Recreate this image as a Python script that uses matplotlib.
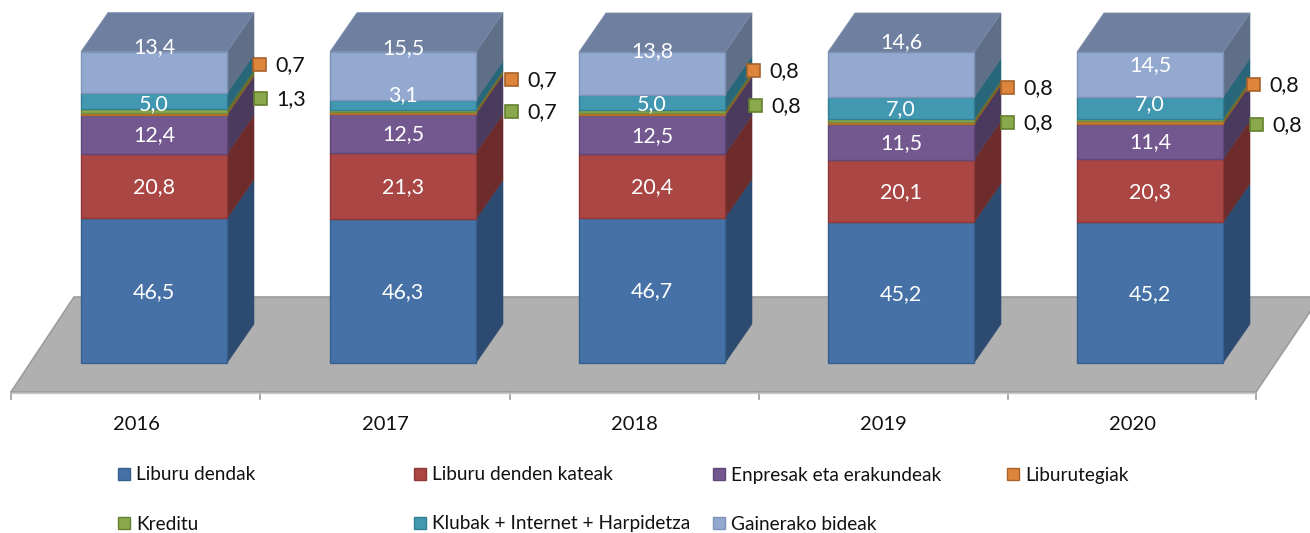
import matplotlib
matplotlib.use("Agg")
import matplotlib.pyplot as plt
from matplotlib.patches import Polygon, Rectangle

plt.rcParams['font.family'] = ['Lato', 'DejaVu Sans']

years = ['2016', '2017', '2018', '2019', '2020']
liburu_dendak = [46.5, 46.3, 46.7, 45.2, 45.2]
kateak = [20.8, 21.3, 20.4, 20.1, 20.3]
enpresak = [12.4, 12.5, 12.5, 11.5, 11.4]
liburutegiak = [0.7, 0.7, 0.8, 0.8, 0.8]
kreditu = [1.3, 0.7, 0.8, 0.8, 0.8]
klubak = [5.0, 3.1, 5.0, 7.0, 7.0]
gainerako = [13.4, 15.5, 13.8, 14.6, 14.5]

names = ['Liburu dendak', 'Liburu denden kateak', 'Enpresak eta erakundeak', 'Liburutegiak',
         'Kreditu', 'Klubak + Internet + Harpidetza', 'Gainerako bideak']
series = [liburu_dendak, kateak, enpresak, liburutegiak, kreditu, klubak, gainerako]

front = ['#4571a6', '#aa4644', '#73588f', '#c77a30', '#8aa64c', '#4198b0', '#94a9d0']
side = ['#2d4a70', '#6d2c2b', '#4a3a5e', '#8a5a20', '#5c7030', '#28667a', '#5f6f88']
edge = ['#38608f', '#8f3735', '#5f4878', '#b06a28', '#6f8a3c', '#327f94', '#7f93b8']
top_face = '#6f7f9f'

PX_X, PX_Y = 249.0, 3.11
X0, Y0 = 154.0, 363.0
W, H = 1310, 533
bar_w = 146 / PX_X
dx, dy = 27 / PX_X, 39 / PX_Y

fig = plt.figure(figsize=(W / 100, H / 100), dpi=100)
ax = fig.add_axes([0, 0, 1, 1])
ax.set_xlim(-X0 / PX_X, (W - X0) / PX_X)
ax.set_ylim(-(H - Y0) / PX_Y, Y0 / PX_Y)
ax.axis('off')

# overlay in pixel units for floor, legend and annotations
pa = fig.add_axes([0, 0, 1, 1], zorder=-1)
pa.set_xlim(0, W)
pa.set_ylim(H, 0)
pa.axis('off')
pb = fig.add_axes([0, 0, 1, 1], zorder=5)
pb.set_xlim(0, W)
pb.set_ylim(H, 0)
pb.axis('off')
pb.patch.set_alpha(0)
ax.patch.set_alpha(0)

# floor
pa.add_patch(Polygon([(11, 392), (1256, 392), (1320, 297), (74, 297)], closed=True,
                     facecolor='#b0b0b0', edgecolor='#9c9c9c', lw=1.2))
tick_x = [11, 260, 510, 759, 1008, 1256]
for t in tick_x:
    pa.plot([t, t], [392, 399], color='#9a9a9a', lw=1.2)
pa.plot([11, 1256], [393, 393], color='#c8c8c8', lw=1)
for lab, xp in zip(years, [136, 385, 634, 883, 1132]):
    pa.text(xp, 424, lab, ha='center', va='center', fontsize=14.5, color='#111111')

# bars
for i in range(len(years)):
    base = 0.0
    l, r = i - bar_w / 2, i + bar_w / 2
    for k, s in enumerate(series):
        v = s[i]
        b, t = base, base + v
        ax.add_patch(Polygon([(r, b), (r + dx, b + dy), (r + dx, t + dy), (r, t)], closed=True,
                             facecolor=side[k], edgecolor=side[k], lw=0.4, zorder=2 + k))
        ax.add_patch(Rectangle((l, b), bar_w, v, facecolor=front[k], edgecolor=edge[k], lw=1.0, zorder=3 + k))
        base = t
    ax.add_patch(Polygon([(l, base), (r, base), (r + dx, base + dy), (l + dx, base + dy)], closed=True,
                         facecolor=top_face, edgecolor='#7c8cab', lw=0.6, zorder=12))

# labels inside bars (pixel offsets from the segment centre for manually moved labels)
shift_klubak = [3, -10, 1, 1, -4]
shift_gain = [-25, -28, -22, -33, -9]
for i in range(len(years)):
    base = 0.0
    for k, s in enumerate(series):
        v = s[i]
        c = base + v / 2
        base += v
        if k in (3, 4):
            continue
        off = 1
        if k == 5:
            off = shift_klubak[i]
        if k == 6:
            off = shift_gain[i]
        ax.text(i, c - off / PX_Y, f'{v:.1f}'.replace('.', ','), ha='center', va='center',
                color='white', fontsize=15.5, zorder=20)

# call-outs for the thin series
orange_xy = [(259, 64), (511, 79), (753, 70), (1007, 87), (1253, 84)]
green_xy = [(260, 98), (511, 111), (755, 105), (1007, 122), (1256, 124)]
for xy, vals, fc, ec in [(orange_xy, liburutegiak, '#dd853a', '#a8622a'),
                         (green_xy, kreditu, '#8aa94c', '#64802f')]:
    for (x, y), v in zip(xy, vals):
        pb.add_patch(Rectangle((x - 6.5, y - 6.5), 13, 13, facecolor=fc, edgecolor=ec, lw=1.2))
        pb.text(x + 31, y + 1, f'{v:.1f}'.replace('.', ','), ha='center', va='center',
                fontsize=15.5, color='#111111')

# legend
leg_x = [118, 414, 713, 1007, 118, 414, 713]
leg_y = [474, 474, 474, 474, 523, 523, 523]
leg_c = ['#4571a6', '#aa4644', '#73588f', '#dd853a', '#8aa94c', '#4198b0', '#94a9d0']
leg_e = ['#38608f', '#8f3735', '#5f4878', '#a8622a', '#64802f', '#327f94', '#7f93b8']
for x, y, n, c, e in zip(leg_x, leg_y, names, leg_c, leg_e):
    pb.add_patch(Rectangle((x, y - 6), 12, 12, facecolor=c, edgecolor=e, lw=1))
    pb.text(x + 18, y + 1, n, ha='left', va='center', fontsize=13.7, color='#111111')

fig.savefig('out.png', dpi=100)
